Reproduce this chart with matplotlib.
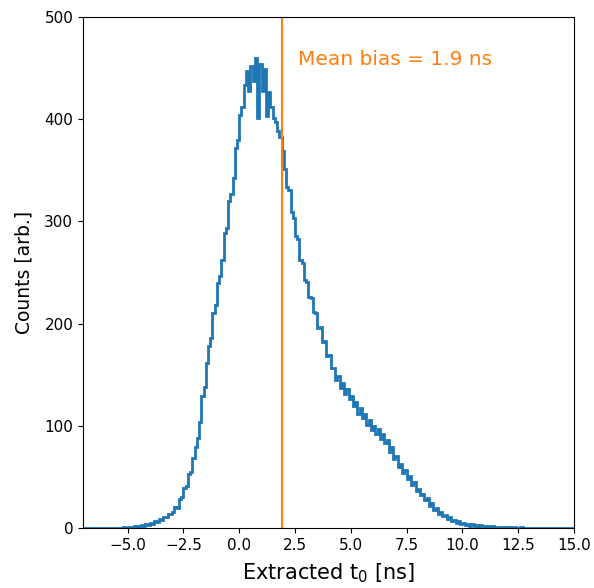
# Histogram of extracted t0 with mean bias marker

import numpy as np
from matplotlib import pyplot as plt

# bin edges: 0.1 ns wide from -7 to 15 ns
t_min, t_max = -7.0, 15.0

# counts per bin (one row per ns)
counts = [
    0, 0, 0, 0, 0, 0, 0, 0, 0, 0,            # -7
    0, 0, 0, 0, 0, 0, 0, 0, 1, 0,            # -6
    1, 0, 1, 2, 1, 2, 3, 2, 4, 3,            # -5
    5, 4, 7, 6, 9, 8, 11, 11, 14, 14,        # -4
    16, 21, 20, 28, 30, 39, 41, 53, 55, 69,  # -3
    79, 88, 104, 129, 138, 161, 178, 186, 210, 218,  # -2
    240, 247, 262, 289, 294, 320, 327, 342, 372, 380,  # -1
    404, 412, 433, 447, 428, 452, 437, 460, 401, 454,  # 0
    428, 449, 403, 427, 412, 401, 397, 388, 383, 369,  # 1
    351, 334, 331, 309, 303, 286, 283, 262, 259, 243,  # 2
    241, 226, 225, 211, 210, 196, 197, 182, 183, 168,  # 3
    169, 157, 157, 145, 149, 137, 142, 131, 136, 126,  # 4
    129, 119, 123, 112, 117, 108, 112, 101, 106, 96,  # 5
    100, 92, 97, 87, 92, 83, 86, 74, 79, 68,  # 6
    70, 60, 63, 54, 57, 48, 51, 42, 45, 36,  # 7
    38, 32, 33, 27, 29, 22, 24, 18, 20, 14,  # 8
    16, 12, 13, 9, 11, 7, 8, 5, 7, 4,        # 9
    5, 3, 4, 2, 4, 2, 3, 1, 3, 2,            # 10
    1, 2, 1, 2, 1, 1, 1, 0, 1, 1,            # 11
    0, 1, 0, 1, 0, 0, 1, 0, 0, 0,            # 12
    0, 0, 0, 0, 0, 0, 0, 0, 0, 0,            # 13
    0, 0, 0, 0, 0, 0, 0, 0, 0, 0,            # 14
]

mean_bias = 1.9

edges = np.linspace(t_min, t_max, len(counts) + 1)
centres = 0.5 * (edges[:-1] + edges[1:])

fig = plt.figure(figsize=(5.94, 5.88), dpi=100)
ax = fig.add_axes([0.1397, 0.102, 0.8266, 0.8691])

ax.hist(centres, bins=edges, weights=counts, histtype='step', color='C0', linewidth=2)
ax.axvline(mean_bias, color='C1', linewidth=1.5)
ax.text(2.65, 458, 'Mean bias = %.1f ns' % mean_bias, color='C1', fontsize=14.5, va='center')

ax.set_xlim(-7, 15)
ax.set_ylim(0, 500)
ax.set_xticks(np.arange(-5, 15.1, 2.5))
ax.tick_params(labelsize=11)
ax.set_xlabel('Extracted t$_0$ [ns]', fontsize=15, labelpad=6)
ax.set_ylabel('Counts [arb.]', fontsize=13.5, labelpad=8)

fig.savefig('out.png', dpi=100)
